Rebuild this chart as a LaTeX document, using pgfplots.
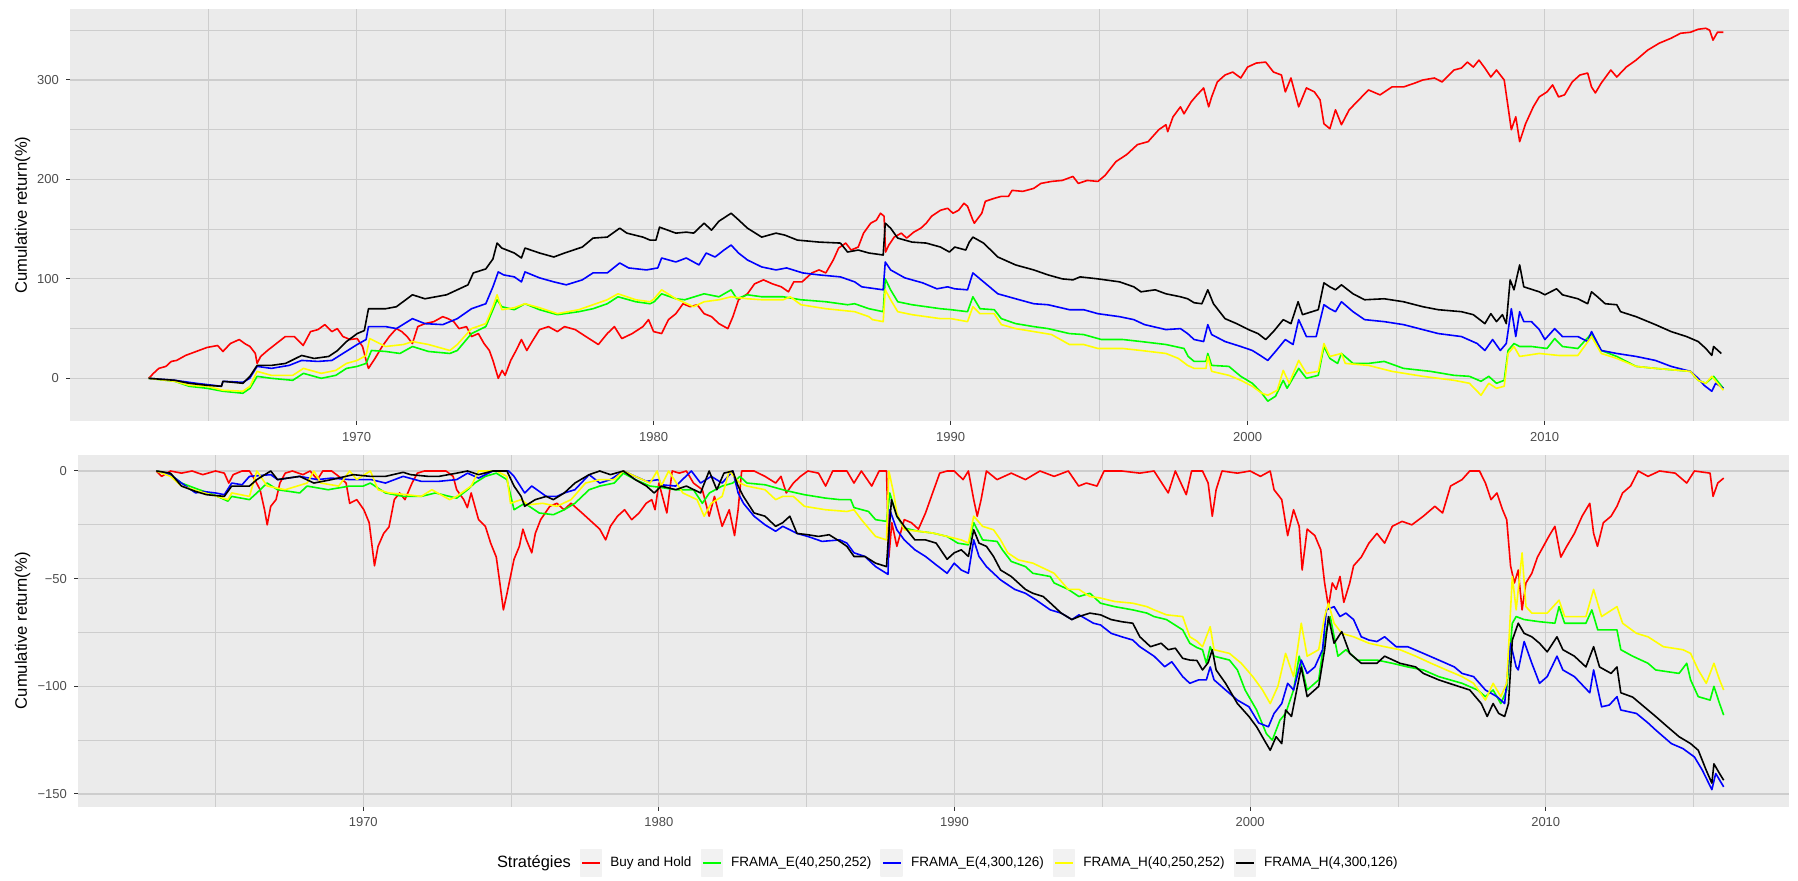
\documentclass[border=0pt]{standalone}
\usepackage{fontspec}
\setmainfont{Liberation Sans}
\usepackage{pgfplots}
\pgfplotsset{compat=1.18}
\definecolor{panelbg}{HTML}{EBEBEB}
\definecolor{gridc}{HTML}{CDCDCD}
\definecolor{ticklab}{HTML}{4D4D4D}
\definecolor{tickc}{HTML}{333333}
\definecolor{legkey}{HTML}{F2F2F2}
\definecolor{cred}{HTML}{FF0000}
\definecolor{cgreen}{HTML}{00FF00}
\definecolor{cblue}{HTML}{0000FF}
\definecolor{cyellow}{HTML}{FFFF00}
\definecolor{cblack}{HTML}{000000}
\pgfplotsset{
  gg/.style={
    scale only axis,
    xmin=1960.35, xmax=2018.23,
    axis background/.style={fill=panelbg},
    axis line style={draw=none},
    grid=both,
    major grid style={color=gridc, line width=0.6pt},
    minor grid style={color=gridc, line width=0.4pt},
    xtick={1970,1980,1990,2000,2010},
    xticklabels={1970,1980,1990,2000,2010},
    minor xtick={1965,1975,1985,1995,2005,2015},
    tick align=outside,
    major tick length=2pt,
    minor tick length=0pt,
    tick style={color=tickc, line width=0.5pt},
    xtick pos=bottom, ytick pos=left,
    tick label style={font=\fontsize{6.5}{7}\selectfont, text=ticklab},
    ylabel={Cumulative return(\%)},
    every axis plot/.append style={line width=0.8pt, line join=round},
    legend image code/.code={
      \fill[legkey] (4.5pt,-6.5pt) rectangle (15pt,6.5pt);
      \draw[#1, line width=0.9pt] (5.3pt,0pt) -- (14.2pt,0pt);
      \path (0pt,0pt) (19pt,0pt);
    },
  }
}
\begin{document}
\begin{tikzpicture}
\path[use as bounding box] (0,0) rectangle (899pt,440.5pt);
% ---------------- top panel ----------------
\begin{axis}[gg,
  at={(35pt,230pt)}, anchor=south west,
  width=859.5pt, height=206pt,
  ymin=-42.9, ymax=371.4,
  ytick={0,100,200,300}, yticklabels={0,100,200,300},
  minor ytick={50,150,250,350},
  ylabel style={font=\fontsize{8.3}{9}\selectfont, at={(axis description cs:-0.0276,0.5)}, anchor=center},
]
\addplot[color=cred] coordinates {
(1963.0,0) (1963.16,5) (1963.34,10) (1963.58,12) (1963.76,17) (1963.94,18) (1964.24,23) (1964.6,27) (1964.96,31) (1965.32,33) (1965.5,27) (1965.75,35) (1966.05,39) (1966.23,35) (1966.41,32) (1966.59,25) (1966.65,15) (1966.77,22) (1967.0,28) (1967.3,35) (1967.6,42) (1967.9,42) (1968.2,33) (1968.45,47) (1968.7,49) (1968.93,54) (1969.17,47) (1969.35,50) (1969.54,42) (1969.78,39) (1970.02,40) (1970.2,32) (1970.32,18) (1970.4,10) (1970.62,20) (1970.86,32) (1971.1,42) (1971.34,50) (1971.52,47) (1971.7,42) (1971.88,35) (1972.06,52) (1972.3,55) (1972.6,57) (1972.9,62) (1973.08,60) (1973.27,57) (1973.45,50) (1973.7,52) (1973.87,42) (1974.1,45) (1974.29,35) (1974.47,28) (1974.59,18) (1974.77,0) (1974.9,8) (1975.0,3) (1975.19,18) (1975.37,28) (1975.55,39) (1975.73,28) (1975.91,37) (1976.16,49) (1976.46,52) (1976.76,47) (1977.0,52) (1977.36,49) (1977.72,42) (1978.14,34) (1978.44,45) (1978.68,52) (1978.93,40) (1979.28,45) (1979.64,52) (1979.83,59) (1980.0,47) (1980.27,45) (1980.5,59) (1980.75,65) (1980.99,75) (1981.23,72) (1981.47,74) (1981.7,65) (1981.95,62) (1982.2,55) (1982.5,50) (1982.67,62) (1982.86,79) (1983.16,85) (1983.4,95) (1983.7,99) (1984.0,95) (1984.3,92) (1984.54,87) (1984.72,97) (1985.0,97) (1985.33,106) (1985.57,109) (1985.8,106) (1986.05,119) (1986.23,131) (1986.47,136) (1986.65,129) (1986.89,132) (1987.07,146) (1987.31,156) (1987.5,159) (1987.64,166) (1987.76,163) (1987.81,127) (1987.92,134) (1988.1,142) (1988.34,146) (1988.52,141) (1988.76,147) (1989.0,151) (1989.18,156) (1989.36,163) (1989.66,169) (1989.9,171) (1990.08,166) (1990.27,169) (1990.45,176) (1990.57,173) (1990.75,159) (1990.8,156) (1991.05,166) (1991.17,178) (1991.47,181) (1991.71,183) (1991.95,183) (1992.07,189) (1992.43,188) (1992.8,191) (1993.04,196) (1993.4,198) (1993.76,199) (1994.12,203) (1994.3,196) (1994.6,199) (1994.96,198) (1995.2,204) (1995.57,218) (1995.93,225) (1996.29,235) (1996.65,238) (1997.01,250) (1997.25,255) (1997.31,248) (1997.49,263) (1997.74,273) (1997.86,266) (1998.1,278) (1998.3,285) (1998.52,292) (1998.69,273) (1998.79,283) (1998.98,298) (1999.24,305) (1999.5,308) (1999.77,302) (2000.0,313) (2000.29,317) (2000.61,318) (2000.87,308) (2001.14,305) (2001.27,288) (2001.46,302) (2001.72,273) (2001.98,292) (2002.25,288) (2002.44,280) (2002.57,256) (2002.77,251) (2002.96,270) (2003.16,255) (2003.42,270) (2003.68,278) (2004.07,290) (2004.46,285) (2004.86,293) (2005.25,293) (2005.64,297) (2005.9,300) (2006.29,302) (2006.55,298) (2006.95,310) (2007.2,312) (2007.4,318) (2007.6,313) (2007.79,320) (2007.99,312) (2008.19,303) (2008.38,310) (2008.64,300) (2008.77,273) (2008.88,250) (2009.03,263) (2009.16,238) (2009.36,256) (2009.62,273) (2009.82,283) (2010.08,288) (2010.27,295) (2010.47,283) (2010.67,285) (2010.93,298) (2011.19,305) (2011.45,307) (2011.58,293) (2011.71,287) (2011.91,297) (2012.23,310) (2012.43,303) (2012.75,313) (2013.08,320) (2013.47,330) (2013.86,337) (2014.26,342) (2014.58,347) (2014.91,348) (2015.17,351) (2015.43,352) (2015.56,350) (2015.67,340) (2015.82,348) (2016.02,348)
};
\addplot[color=cgreen] coordinates {
(1963.0,0) (1963.88,-3) (1964.36,-8) (1964.96,-10) (1965.5,-13) (1966.17,-15) (1966.41,-10) (1966.65,2) (1967.13,0) (1967.85,-2) (1968.21,5) (1968.81,0) (1969.3,3) (1969.66,10) (1970.02,12) (1970.32,15) (1970.5,28) (1970.98,27) (1971.46,25) (1971.88,32) (1972.42,27) (1973.14,25) (1973.39,28) (1973.87,45) (1974.35,52) (1974.59,69) (1974.73,79) (1974.89,72) (1975.31,69) (1975.67,75) (1976.16,69) (1976.76,64) (1977.48,67) (1977.96,70) (1978.44,75) (1978.8,82) (1979.4,77) (1979.88,75) (1980.02,77) (1980.27,85) (1980.75,80) (1981.05,79) (1981.7,85) (1982.2,82) (1982.61,89) (1982.8,80) (1983.16,84) (1983.64,82) (1984.36,82) (1984.96,79) (1985.8,77) (1986.53,74) (1986.77,75) (1987.25,70) (1987.73,67) (1987.8,100) (1987.98,89) (1988.22,77) (1988.7,74) (1989.18,72) (1989.66,70) (1990.02,69) (1990.57,67) (1990.75,82) (1990.99,70) (1991.47,69) (1991.71,60) (1992.19,55) (1992.8,52) (1993.28,50) (1994.0,45) (1994.48,44) (1995.08,39) (1995.8,39) (1996.41,37) (1997.25,34) (1997.86,30) (1998.0,22) (1998.2,17) (1998.6,17) (1998.66,25) (1998.79,13) (1999.37,12) (1999.77,2) (2000.16,-5) (2000.48,-15) (2000.68,-23) (2000.94,-18) (2001.2,-2) (2001.33,-10) (2001.72,10) (2001.98,0) (2002.38,3) (2002.57,32) (2002.77,20) (2003.03,15) (2003.16,25) (2003.55,15) (2004.07,15) (2004.6,17) (2005.25,10) (2006.16,7) (2006.95,3) (2007.47,2) (2007.86,-3) (2008.12,2) (2008.38,-5) (2008.64,-2) (2008.77,28) (2008.97,35) (2009.16,32) (2009.56,32) (2010.08,30) (2010.34,40) (2010.6,32) (2011.12,30) (2011.58,45) (2011.91,28) (2012.43,22) (2013.08,12) (2013.73,10) (2014.52,8) (2014.91,7) (2015.17,-2) (2015.43,-5) (2015.69,2) (2016.02,-10)
};
\addplot[color=cblue] coordinates {
(1963.0,0) (1963.88,-2) (1964.6,-5) (1965.45,-8) (1965.5,-3) (1966.17,-4) (1966.4,0) (1966.65,12) (1967.13,10) (1967.73,13) (1968.15,18) (1968.7,17) (1969.17,18) (1969.54,25) (1970.02,34) (1970.32,39) (1970.4,52) (1970.98,52) (1971.34,50) (1971.88,60) (1972.3,55) (1972.9,54) (1973.39,60) (1973.87,70) (1974.35,75) (1974.59,92) (1974.77,107) (1974.95,104) (1975.31,102) (1975.55,97) (1975.67,107) (1976.16,101) (1976.64,97) (1977.06,94) (1977.6,99) (1977.96,106) (1978.44,106) (1978.86,116) (1979.16,111) (1979.76,109) (1980.14,111) (1980.27,121) (1980.75,117) (1981.1,121) (1981.53,114) (1981.77,126) (1982.07,122) (1982.37,129) (1982.61,134) (1982.86,126) (1983.16,119) (1983.64,112) (1984.12,109) (1984.48,111) (1985.02,106) (1985.57,104) (1986.29,102) (1986.77,97) (1987.01,92) (1987.73,89) (1987.8,117) (1987.98,109) (1988.46,101) (1989.06,96) (1989.54,90) (1989.9,92) (1990.14,90) (1990.57,89) (1990.75,106) (1991.11,97) (1991.59,85) (1992.31,79) (1992.8,75) (1993.28,74) (1994.0,69) (1994.48,69) (1994.96,65) (1995.69,62) (1996.17,59) (1996.53,54) (1997.25,49) (1997.74,50) (1997.98,45) (1998.2,39) (1998.52,37) (1998.66,54) (1998.79,44) (1999.24,37) (1999.77,32) (2000.16,28) (2000.48,22) (2000.68,18) (2000.94,27) (2001.27,39) (2001.53,34) (2001.72,59) (2001.98,42) (2002.31,42) (2002.57,74) (2002.77,70) (2002.96,67) (2003.16,77) (2003.55,67) (2003.94,59) (2004.6,57) (2005.25,54) (2005.9,49) (2006.42,45) (2007.2,42) (2007.73,35) (2007.99,28) (2008.25,39) (2008.51,28) (2008.71,35) (2008.88,70) (2009.03,42) (2009.16,67) (2009.3,57) (2009.56,57) (2009.82,49) (2010.01,39) (2010.34,50) (2010.6,42) (2011.12,42) (2011.45,37) (2011.58,47) (2011.91,28) (2012.43,25) (2013.08,22) (2013.73,18) (2014.26,12) (2014.91,7) (2015.17,0) (2015.37,-7) (2015.63,-13) (2015.76,-5) (2016.02,-10)
};
\addplot[color=cyellow] coordinates {
(1963.0,0) (1963.88,-3) (1964.36,-7) (1964.96,-8) (1965.5,-12) (1966.17,-13) (1966.41,-8) (1966.65,7) (1967.13,3) (1967.85,3) (1968.21,10) (1968.81,5) (1969.3,8) (1969.66,15) (1970.02,18) (1970.32,23) (1970.44,40) (1970.98,32) (1971.58,34) (1971.88,37) (1972.42,34) (1973.14,28) (1973.39,34) (1973.87,50) (1974.35,55) (1974.59,72) (1974.73,84) (1974.89,69) (1975.31,71) (1975.67,75) (1976.16,71) (1976.76,65) (1977.48,69) (1977.96,74) (1978.44,79) (1978.8,85) (1979.4,79) (1979.88,77) (1980.02,80) (1980.27,89) (1980.75,80) (1981.35,72) (1981.7,77) (1982.2,79) (1982.61,82) (1983.16,80) (1983.64,79) (1984.36,79) (1984.6,82) (1984.96,74) (1985.8,70) (1986.77,67) (1987.25,62) (1987.37,59) (1987.73,57) (1987.8,89) (1987.98,79) (1988.22,67) (1988.7,64) (1989.18,62) (1989.66,60) (1990.02,60) (1990.57,57) (1990.75,72) (1990.99,65) (1991.47,65) (1991.71,54) (1992.19,50) (1992.8,47) (1993.4,44) (1994.0,34) (1994.48,34) (1994.96,30) (1995.8,30) (1996.41,28) (1997.25,25) (1997.67,20) (1997.98,13) (1998.2,10) (1998.6,10) (1998.66,22) (1998.79,7) (1999.37,3) (1999.77,-2) (2000.16,-8) (2000.48,-15) (2000.68,-17) (2001.0,-12) (2001.2,8) (2001.4,-5) (2001.72,18) (2001.98,5) (2002.38,7) (2002.57,35) (2002.77,22) (2003.16,25) (2003.29,15) (2004.07,13) (2004.86,7) (2005.9,2) (2006.95,-2) (2007.47,-5) (2007.86,-17) (2008.12,-5) (2008.38,-10) (2008.64,-8) (2008.77,25) (2008.97,32) (2009.16,22) (2009.82,25) (2010.47,23) (2011.12,23) (2011.58,42) (2011.91,25) (2012.43,20) (2013.08,12) (2013.73,10) (2014.52,8) (2014.91,7) (2015.17,-2) (2015.43,-5) (2015.63,2) (2016.02,-12)
};
\addplot[color=cblack] coordinates {
(1963.0,0) (1963.88,-2) (1964.36,-5) (1964.96,-7) (1965.45,-8) (1965.5,-3) (1966.17,-5) (1966.41,2) (1966.65,13) (1967.13,13) (1967.61,15) (1968.15,23) (1968.57,20) (1969.06,22) (1969.36,28) (1969.66,37) (1970.02,45) (1970.26,48) (1970.4,70) (1970.98,70) (1971.34,72) (1971.88,84) (1972.3,80) (1973.03,84) (1973.39,89) (1973.75,94) (1973.93,106) (1974.35,110) (1974.59,120) (1974.73,136) (1974.89,131) (1975.31,126) (1975.55,121) (1975.67,131) (1976.16,126) (1976.64,122) (1977.0,126) (1977.6,132) (1977.96,141) (1978.44,142) (1978.86,151) (1979.1,146) (1979.64,142) (1979.88,139) (1980.08,139) (1980.2,152) (1980.75,146) (1981.1,147) (1981.35,146) (1981.7,156) (1981.95,149) (1982.2,158) (1982.61,166) (1982.8,161) (1983.16,151) (1983.64,142) (1984.12,146) (1984.42,144) (1984.84,139) (1985.57,137) (1986.29,136) (1986.53,127) (1986.89,129) (1987.25,126) (1987.73,124) (1987.8,156) (1987.98,151) (1988.22,141) (1988.7,137) (1989.18,136) (1989.66,132) (1989.96,127) (1990.14,132) (1990.51,129) (1990.63,137) (1990.75,142) (1991.11,136) (1991.59,122) (1992.19,114) (1992.8,109) (1993.28,104) (1993.76,100) (1994.12,99) (1994.36,102) (1994.96,100) (1995.69,97) (1996.17,92) (1996.41,87) (1996.89,89) (1997.25,85) (1997.74,82) (1997.98,80) (1998.2,76) (1998.46,75) (1998.66,89) (1998.85,75) (1999.24,60) (1999.63,55) (2000.03,49) (2000.35,45) (2000.61,39) (2000.87,47) (2001.2,59) (2001.46,55) (2001.7,77) (2001.85,64) (2002.38,69) (2002.57,96) (2002.77,92) (2002.96,89) (2003.16,94) (2003.55,85) (2003.94,79) (2004.6,80) (2005.25,77) (2005.9,72) (2006.42,69) (2007.2,67) (2007.6,64) (2007.99,55) (2008.19,65) (2008.38,57) (2008.58,64) (2008.71,55) (2008.84,99) (2008.97,89) (2009.16,114) (2009.3,92) (2009.82,87) (2010.01,84) (2010.4,90) (2010.6,84) (2011.12,80) (2011.45,75) (2011.58,87) (2011.78,82) (2012.04,75) (2012.43,74) (2012.56,67) (2013.08,62) (2013.73,54) (2014.26,47) (2014.78,42) (2015.17,37) (2015.43,30) (2015.63,23) (2015.69,32) (2015.95,25)
};
\end{axis}
% ---------------- bottom panel ----------------
\begin{axis}[gg,
  at={(39pt,37.15pt)}, anchor=south west,
  width=855.5pt, height=176pt,
  ymin=-155.9, ymax=7.57,
  ytick={-150,-100,-50,0}, yticklabels={−150,−100,−50,0},
  minor ytick={-125,-75,-25},
  ylabel style={font=\fontsize{8.3}{9}\selectfont, at={(axis description cs:-0.0324,0.5)}, anchor=center},
  legend columns=-1,
  legend style={at={(axis description cs:0.2449,-0.16)}, anchor=west, draw=none, fill=none,
    inner sep=0pt, outer sep=0pt, column sep=0pt, nodes={inner sep=0pt},
    font=\fontsize{6.75}{8}\selectfont, text=black},
]
\addlegendimage{empty legend}
\addlegendentry{\fontsize{8.2}{9}\selectfont Stratégies}
\addplot[color=cred] coordinates {
(1963.0,0) (1963.18,-2.5) (1963.48,0) (1963.85,-1) (1964.21,0) (1964.57,-1.7) (1965.0,0) (1965.3,-1) (1965.45,-5.6) (1965.6,-1.7) (1965.9,0) (1966.15,0) (1966.33,-4) (1966.51,-8.7) (1966.66,-18) (1966.75,-25) (1966.87,-16.4) (1967.05,-13.3) (1967.18,-5.6) (1967.36,-1) (1967.6,0) (1967.96,-1.7) (1968.2,0) (1968.45,-4) (1968.63,0) (1968.93,0) (1969.17,-2.5) (1969.42,-5.6) (1969.54,-15) (1969.78,-13.3) (1970.02,-18) (1970.2,-24) (1970.38,-44) (1970.5,-35) (1970.69,-29) (1970.87,-26) (1971.05,-13.3) (1971.23,-10.2) (1971.41,-13.3) (1971.65,-5.6) (1971.83,-1) (1972.07,0) (1972.44,0) (1972.8,0) (1973.04,-2.5) (1973.16,-8.7) (1973.4,-13.3) (1973.52,-17) (1973.65,-10.2) (1973.9,-22.6) (1974.13,-25.7) (1974.31,-33.5) (1974.5,-40) (1974.62,-52) (1974.74,-64.5) (1974.86,-57) (1974.98,-49) (1975.1,-41) (1975.28,-35) (1975.4,-27) (1975.52,-32) (1975.7,-38) (1975.82,-29) (1976.0,-22.6) (1976.31,-16.4) (1976.55,-15) (1976.79,-18) (1977.03,-15) (1977.4,-19.5) (1977.76,-24) (1978.0,-27) (1978.2,-32) (1978.36,-25.7) (1978.6,-21) (1978.84,-18) (1979.08,-22.6) (1979.33,-19.5) (1979.57,-15) (1979.76,-13.3) (1979.87,-18) (1980.0,-5.6) (1980.27,-19.5) (1980.45,0) (1980.69,-1) (1980.93,0) (1981.17,-5.6) (1981.47,-8.7) (1981.7,-21) (1981.88,-11.8) (1982.14,-25.7) (1982.38,-18) (1982.56,-30) (1982.68,-18) (1982.8,0) (1983.22,0) (1983.59,-2.5) (1983.95,-5.6) (1984.13,-2.5) (1984.31,-10.2) (1984.55,-5.6) (1984.79,-2.5) (1985.04,0) (1985.4,-1) (1985.64,-7) (1985.88,0) (1986.36,0) (1986.6,-5.6) (1986.85,0) (1987.2,-7) (1987.45,0) (1987.7,0) (1987.78,-40) (1987.88,-24) (1988.05,-35) (1988.3,-22.6) (1988.54,-24) (1988.78,-27) (1989.02,-19.5) (1989.26,-10.2) (1989.5,-1) (1989.75,0) (1989.99,0) (1990.29,-4) (1990.47,0) (1990.65,-13.3) (1990.77,-21) (1990.9,-13.3) (1991.08,0) (1991.44,-4) (1991.92,-1) (1992.4,-4) (1992.89,0) (1993.37,-2.5) (1993.85,0) (1994.2,-7) (1994.46,-5.6) (1994.82,-7) (1995.06,0) (1995.66,0) (1996.27,-1) (1996.75,0) (1997.23,-10.2) (1997.47,0) (1997.84,-11) (1998.02,0) (1998.39,0) (1998.58,-5.6) (1998.72,-21) (1998.85,-8.7) (1999.05,0) (1999.57,-1) (2000.0,0) (2000.35,-2.5) (2000.68,0) (2000.81,-8.7) (2001.07,-13.3) (2001.27,-30) (2001.47,-18) (2001.66,-25.7) (2001.76,-46) (2001.93,-27) (2002.19,-30) (2002.39,-36.6) (2002.52,-52) (2002.65,-63) (2002.78,-52) (2002.91,-55) (2003.04,-49) (2003.17,-61) (2003.37,-52) (2003.5,-44) (2003.76,-40) (2004.02,-33.5) (2004.29,-29) (2004.55,-33.5) (2004.81,-25.7) (2005.14,-23.4) (2005.47,-25) (2005.86,-21) (2006.25,-16.4) (2006.51,-19.5) (2006.78,-7) (2007.17,-4) (2007.43,0) (2007.76,0) (2007.96,-5.6) (2008.15,-13.3) (2008.35,-10.2) (2008.54,-18) (2008.68,-22.6) (2008.81,-44) (2008.94,-52) (2009.07,-46) (2009.2,-64.5) (2009.33,-52) (2009.53,-47.5) (2009.72,-40) (2009.92,-35) (2010.12,-30) (2010.31,-25.7) (2010.51,-40) (2010.71,-35) (2010.97,-29) (2011.23,-21) (2011.49,-15) (2011.62,-29) (2011.75,-35) (2011.95,-24) (2012.21,-21) (2012.41,-16.4) (2012.6,-10.2) (2012.87,-7) (2013.13,0) (2013.46,-2.5) (2013.85,0) (2014.38,-1) (2014.77,-5.6) (2015.03,0) (2015.56,-1) (2015.66,-11.8) (2015.82,-5.6) (2016.02,-3.3)
};
\addlegendentry{Buy and Hold}
\addplot[color=cgreen] coordinates {
(1963.0,0) (1963.48,-1.7) (1963.85,-5.6) (1964.45,-8.7) (1964.94,-11) (1965.42,-14) (1965.55,-11.8) (1966.15,-13.3) (1966.4,-10.2) (1966.75,-5.6) (1967.1,-8.7) (1967.85,-10.2) (1968.1,-7) (1968.81,-8.7) (1969.54,-7) (1970.0,-7) (1970.24,-5.6) (1970.75,-10.2) (1971.35,-11.8) (1971.96,-11.8) (1972.44,-10.2) (1973.16,-12.6) (1973.53,-8.7) (1973.77,-5.6) (1974.13,-2.5) (1974.5,-1) (1974.86,-4) (1975.1,-18) (1975.46,-15) (1975.95,-19.5) (1976.43,-20.3) (1976.8,-18) (1977.16,-15) (1977.64,-8.7) (1978.0,-7) (1978.49,-5.6) (1978.8,-1) (1979.2,-4) (1979.7,-7) (1980.0,-7.5) (1980.57,-8.7) (1981.17,-8.7) (1981.47,-15) (1981.71,-10.2) (1982.14,-7) (1982.5,-5.6) (1982.74,-2.5) (1982.98,-5.6) (1983.59,-6.4) (1984.19,-8.7) (1984.43,-9.5) (1984.92,-11) (1985.64,-12.6) (1986.12,-13.3) (1986.49,-13.3) (1986.6,-17) (1987.09,-18.8) (1987.33,-22.6) (1987.7,-23.4) (1987.81,-10.2) (1988.05,-21) (1988.3,-26.5) (1988.78,-28) (1989.26,-28.8) (1989.75,-30.4) (1990.11,-33.5) (1990.47,-34.3) (1990.65,-24) (1990.95,-32) (1991.44,-32.7) (1991.62,-36.6) (1991.92,-42) (1992.4,-44.4) (1992.65,-47.5) (1993.24,-49) (1993.37,-52) (1993.85,-55) (1994.21,-58.3) (1994.58,-56.8) (1994.94,-61.4) (1995.42,-63) (1996.03,-64.5) (1996.51,-66) (1996.75,-67.6) (1997.17,-69) (1997.72,-73.8) (1997.96,-80) (1998.2,-82) (1998.39,-83) (1998.52,-89.3) (1998.65,-81.6) (1998.78,-86) (1999.3,-87.8) (1999.57,-92.4) (1999.83,-101.7) (2000.22,-111) (2000.55,-122) (2000.75,-125) (2001.01,-115.7) (2001.2,-112.6) (2001.47,-101.7) (2001.66,-86) (2001.93,-101.7) (2002.32,-97) (2002.52,-77) (2002.71,-67.6) (2002.97,-86) (2003.24,-83) (2003.63,-87.8) (2004.29,-87.8) (2004.81,-89.3) (2005.33,-91) (2005.86,-92.4) (2006.38,-95.5) (2007.17,-98.6) (2007.69,-101.7) (2007.96,-104.8) (2008.22,-101.7) (2008.48,-108) (2008.68,-101.7) (2008.87,-70.7) (2009.0,-67.6) (2009.27,-69) (2009.79,-70) (2010.31,-70.7) (2010.45,-63) (2010.64,-70.7) (2011.36,-70.7) (2011.56,-64.5) (2011.76,-73.8) (2012.41,-73.8) (2012.54,-83) (2012.94,-86) (2013.46,-89.3) (2013.72,-92.4) (2014.51,-94) (2014.77,-89.3) (2014.9,-97) (2015.16,-104.8) (2015.56,-106.4) (2015.69,-100) (2015.88,-108) (2016.02,-113.4)
};
\addlegendentry{FRAMA\_E(40,250,252)}
\addplot[color=cblue] coordinates {
(1963.0,0) (1963.48,-1.7) (1963.85,-5.6) (1964.33,-10.2) (1964.57,-9.5) (1965.0,-10.2) (1965.3,-11) (1965.55,-5.6) (1965.9,-6.4) (1966.15,-2.5) (1966.87,-1.7) (1967.1,-4) (1967.85,-2.5) (1968.45,-4) (1968.93,-3.3) (1969.54,-4) (1970.27,-4) (1970.75,-5.6) (1971.35,-2.5) (1971.96,-4.8) (1972.56,-4.8) (1973.16,-4) (1973.53,-1) (1973.9,-3.3) (1974.38,0) (1974.92,0) (1975.1,-2.5) (1975.46,-10.2) (1975.7,-7) (1976.19,-11.8) (1976.55,-11.8) (1976.8,-10.2) (1977.16,-8.7) (1977.64,-1.7) (1978.0,-5.6) (1978.36,-4) (1978.8,0) (1979.2,-2.5) (1979.58,-4.8) (1980.0,-4) (1980.08,-6.4) (1980.57,-7) (1981.1,0) (1981.41,-5.6) (1981.77,-2.5) (1982.14,-5.6) (1982.5,0) (1982.68,-10.2) (1982.86,-15) (1983.22,-21) (1983.59,-25) (1983.95,-28) (1984.19,-25.7) (1984.43,-27.3) (1984.67,-29) (1985.04,-30.4) (1985.52,-32.7) (1986.12,-32) (1986.36,-33.5) (1986.6,-38) (1986.97,-39.7) (1987.33,-44.4) (1987.75,-48) (1987.81,-18) (1988.05,-27.3) (1988.3,-32) (1988.66,-36.6) (1989.02,-39.7) (1989.38,-43.6) (1989.75,-47.5) (1989.99,-42.8) (1990.23,-46) (1990.47,-47.5) (1990.65,-32) (1990.83,-39.7) (1991.08,-44.4) (1991.32,-47.5) (1991.56,-50.6) (1992.04,-55) (1992.4,-56.8) (1992.77,-60) (1993.24,-64.5) (1993.61,-66) (1993.97,-69) (1994.21,-66.8) (1994.7,-70.7) (1994.94,-71.5) (1995.3,-75.4) (1995.66,-77) (1996.03,-78.5) (1996.27,-81.6) (1996.75,-86) (1997.11,-90.9) (1997.35,-88.6) (1997.72,-95.5) (1997.96,-98.6) (1998.26,-97) (1998.52,-97) (1998.65,-91) (1998.78,-97) (1999.17,-101.7) (1999.57,-106.4) (1999.96,-109.5) (2000.29,-117) (2000.62,-118.8) (2000.81,-112.6) (2001.07,-108) (2001.27,-98.6) (2001.47,-101.7) (2001.73,-87.8) (2001.93,-94) (2002.19,-91) (2002.45,-83) (2002.58,-64.5) (2002.84,-63) (2003.04,-67.6) (2003.24,-66) (2003.5,-69) (2003.76,-77) (2004.02,-78.5) (2004.29,-79.2) (2004.55,-77) (2004.94,-81.6) (2005.33,-81.6) (2005.86,-84.7) (2006.38,-87.8) (2006.91,-91) (2007.17,-94) (2007.56,-95.5) (2007.96,-101.7) (2008.35,-104.8) (2008.61,-108) (2008.81,-80) (2009.0,-91) (2009.07,-92.4) (2009.27,-79.2) (2009.53,-89.3) (2009.79,-98.6) (2010.05,-95.5) (2010.38,-86) (2010.58,-92.4) (2010.97,-95.5) (2011.49,-103) (2011.62,-92.4) (2011.89,-109.5) (2012.15,-108.7) (2012.41,-104.8) (2012.54,-111) (2013.07,-112.6) (2013.46,-117) (2013.72,-120.3) (2014.25,-126.6) (2014.64,-128.9) (2015.03,-132.8) (2015.3,-139) (2015.62,-148) (2015.75,-140.5) (2016.02,-146.7)
};
\addlegendentry{FRAMA\_E(4,300,126)}
\addplot[color=cyellow] coordinates {
(1963.0,0) (1963.48,-2.5) (1963.85,-7) (1964.45,-9.5) (1965.06,-11.8) (1965.42,-13.3) (1965.55,-10.2) (1966.15,-11.8) (1966.4,0) (1966.75,-7) (1967.36,-8.7) (1968.1,-5.6) (1968.33,0) (1968.57,-5.6) (1969.17,-7) (1969.54,0) (1969.78,-4) (1970.24,0) (1970.5,-8.7) (1970.87,-10.2) (1971.47,-11) (1971.96,-11.8) (1972.32,-8.7) (1972.92,-13.3) (1973.16,-11.8) (1973.65,-7) (1973.9,0) (1974.5,0) (1974.86,-2.5) (1974.98,-15) (1975.34,-13.3) (1975.58,-15.7) (1976.07,-15) (1976.55,-16.4) (1977.03,-13.3) (1977.52,-5.6) (1978.0,-4) (1978.49,-4) (1978.8,0) (1979.2,-2.5) (1979.7,-5.6) (1979.94,0) (1980.08,-7) (1980.33,0) (1980.81,-10.2) (1981.29,-13.3) (1981.53,-21) (1981.77,-15) (1982.14,-11.8) (1982.38,0) (1982.74,-5.6) (1982.98,-7) (1983.59,-8.7) (1983.95,-13.3) (1984.19,-11.8) (1984.55,-11.8) (1984.92,-16.4) (1985.64,-18) (1986.36,-18.8) (1986.6,-18) (1986.85,-22.6) (1987.33,-30.4) (1987.7,-32) (1987.78,0) (1987.94,-10.2) (1988.05,-19.5) (1988.3,-27.3) (1988.78,-28) (1989.26,-28.8) (1989.75,-30.4) (1990.23,-32) (1990.47,-33.5) (1990.65,-21) (1990.95,-25.7) (1991.32,-27.3) (1991.56,-32) (1991.8,-38) (1992.16,-41.3) (1992.65,-42.8) (1993.37,-47.5) (1993.85,-55) (1994.21,-55) (1994.58,-58.3) (1994.94,-59) (1995.42,-60.6) (1996.03,-61.4) (1996.51,-63) (1996.75,-64.5) (1997.17,-66.8) (1997.72,-67.6) (1997.96,-77) (1998.2,-79) (1998.39,-81.6) (1998.65,-72.3) (1998.78,-83) (1999.3,-84.7) (1999.7,-89.3) (2000.09,-95.5) (2000.42,-101.7) (2000.68,-108) (2000.94,-100) (2001.2,-84.7) (2001.47,-95.5) (2001.73,-70.7) (2001.93,-86) (2002.32,-83) (2002.52,-67.6) (2002.65,-61.4) (2002.84,-70.7) (2003.1,-75.4) (2003.5,-77) (2004.02,-80) (2004.55,-81.6) (2005.07,-83) (2005.6,-86) (2006.12,-89.3) (2006.64,-92.4) (2007.17,-95.5) (2007.56,-98.6) (2007.96,-106.4) (2008.22,-98.6) (2008.48,-104.8) (2008.68,-98.6) (2008.87,-49) (2009.0,-64.5) (2009.2,-38) (2009.33,-63) (2009.53,-66) (2010.05,-66) (2010.45,-60) (2010.64,-67.6) (2011.36,-67.6) (2011.62,-55) (2011.89,-67.6) (2012.41,-63) (2012.6,-70.7) (2013.07,-75.4) (2013.46,-77) (2013.98,-81.6) (2014.64,-83) (2014.9,-84.7) (2015.16,-92.4) (2015.43,-98.6) (2015.69,-89.3) (2015.88,-97) (2016.02,-101.7)
};
\addlegendentry{FRAMA\_H(40,250,252)}
\addplot[color=cblack] coordinates {
(1963.0,0) (1963.48,-1) (1963.85,-7) (1964.33,-9.5) (1964.7,-11) (1965.3,-11.8) (1965.55,-7) (1966.15,-7) (1966.4,-4) (1966.87,0) (1967.1,-4) (1967.85,-2.5) (1968.33,-5.6) (1968.93,-4) (1969.66,-1.7) (1970.24,-2.5) (1970.75,-2.5) (1971.35,-0.6) (1971.6,-1.7) (1972.2,-2.5) (1972.56,-2.5) (1973.16,-1) (1973.53,0) (1973.9,-1.7) (1974.38,0) (1974.86,0) (1975.1,-7) (1975.34,-11.8) (1975.46,-16.4) (1975.82,-13.3) (1976.19,-11.8) (1976.43,-13.3) (1976.8,-10.2) (1977.16,-5.6) (1977.64,-1.7) (1978.0,0) (1978.36,-1.7) (1978.8,0) (1979.2,-4) (1979.58,-7) (1979.84,-10.2) (1980.08,-7) (1980.57,-8.7) (1980.93,-7) (1981.41,-10.2) (1981.7,0) (1981.96,-8.7) (1982.2,-1) (1982.5,0) (1982.68,-7) (1982.86,-11.8) (1983.22,-19.5) (1983.59,-21) (1983.95,-25.7) (1984.19,-24) (1984.43,-21) (1984.67,-29) (1985.04,-29.6) (1985.4,-30.4) (1985.76,-29.6) (1986.12,-32.7) (1986.36,-35) (1986.6,-39.7) (1986.97,-39.7) (1987.33,-42.8) (1987.7,-44.4) (1987.75,-33.5) (1987.87,-13.3) (1988.05,-21) (1988.3,-25.7) (1988.66,-32) (1989.02,-32) (1989.38,-33.5) (1989.75,-41) (1989.99,-38) (1990.23,-36.6) (1990.47,-39.7) (1990.65,-27.3) (1990.83,-33.5) (1991.08,-35) (1991.32,-39.7) (1991.56,-46) (1991.92,-49) (1992.16,-52) (1992.4,-55) (1992.65,-56.8) (1993.0,-58.3) (1993.25,-61.4) (1993.61,-66) (1993.97,-69) (1994.21,-67.6) (1994.58,-66) (1994.94,-66.8) (1995.3,-69) (1995.66,-70) (1996.03,-70.7) (1996.27,-77) (1996.63,-81.6) (1996.99,-80) (1997.23,-83) (1997.47,-82.3) (1997.72,-87) (1997.96,-87.8) (1998.2,-88) (1998.39,-92.4) (1998.58,-89) (1998.72,-83) (1998.85,-92.4) (1999.17,-98.6) (1999.57,-108) (1999.96,-114) (2000.22,-118.8) (2000.48,-125) (2000.68,-129.7) (2000.88,-123.4) (2001.07,-126.6) (2001.2,-111) (2001.4,-114) (2001.73,-91) (2001.93,-104.8) (2002.32,-100) (2002.52,-83) (2002.65,-67.6) (2002.84,-80) (2003.1,-74.6) (2003.37,-84.7) (2003.76,-89.3) (2004.29,-89.3) (2004.55,-86) (2005.07,-89.3) (2005.6,-91) (2005.86,-94) (2006.38,-97) (2006.91,-99.4) (2007.43,-101.7) (2007.82,-108) (2008.02,-114) (2008.22,-108) (2008.41,-112.6) (2008.61,-114) (2008.74,-108) (2008.87,-78.5) (2009.07,-70.7) (2009.27,-75.4) (2009.53,-77) (2009.79,-80) (2010.05,-84) (2010.38,-77) (2010.58,-83) (2010.97,-86) (2011.36,-91) (2011.62,-81.6) (2011.82,-91) (2012.21,-94) (2012.41,-91) (2012.54,-103) (2012.94,-105) (2013.33,-109.5) (2013.72,-114) (2014.12,-118.8) (2014.51,-123.4) (2014.9,-126.6) (2015.16,-129.7) (2015.43,-139) (2015.62,-145) (2015.69,-136) (2015.88,-140.5) (2016.02,-143.6)
};
\addlegendentry{FRAMA\_H(4,300,126)}
\end{axis}
\end{tikzpicture}
\end{document}
